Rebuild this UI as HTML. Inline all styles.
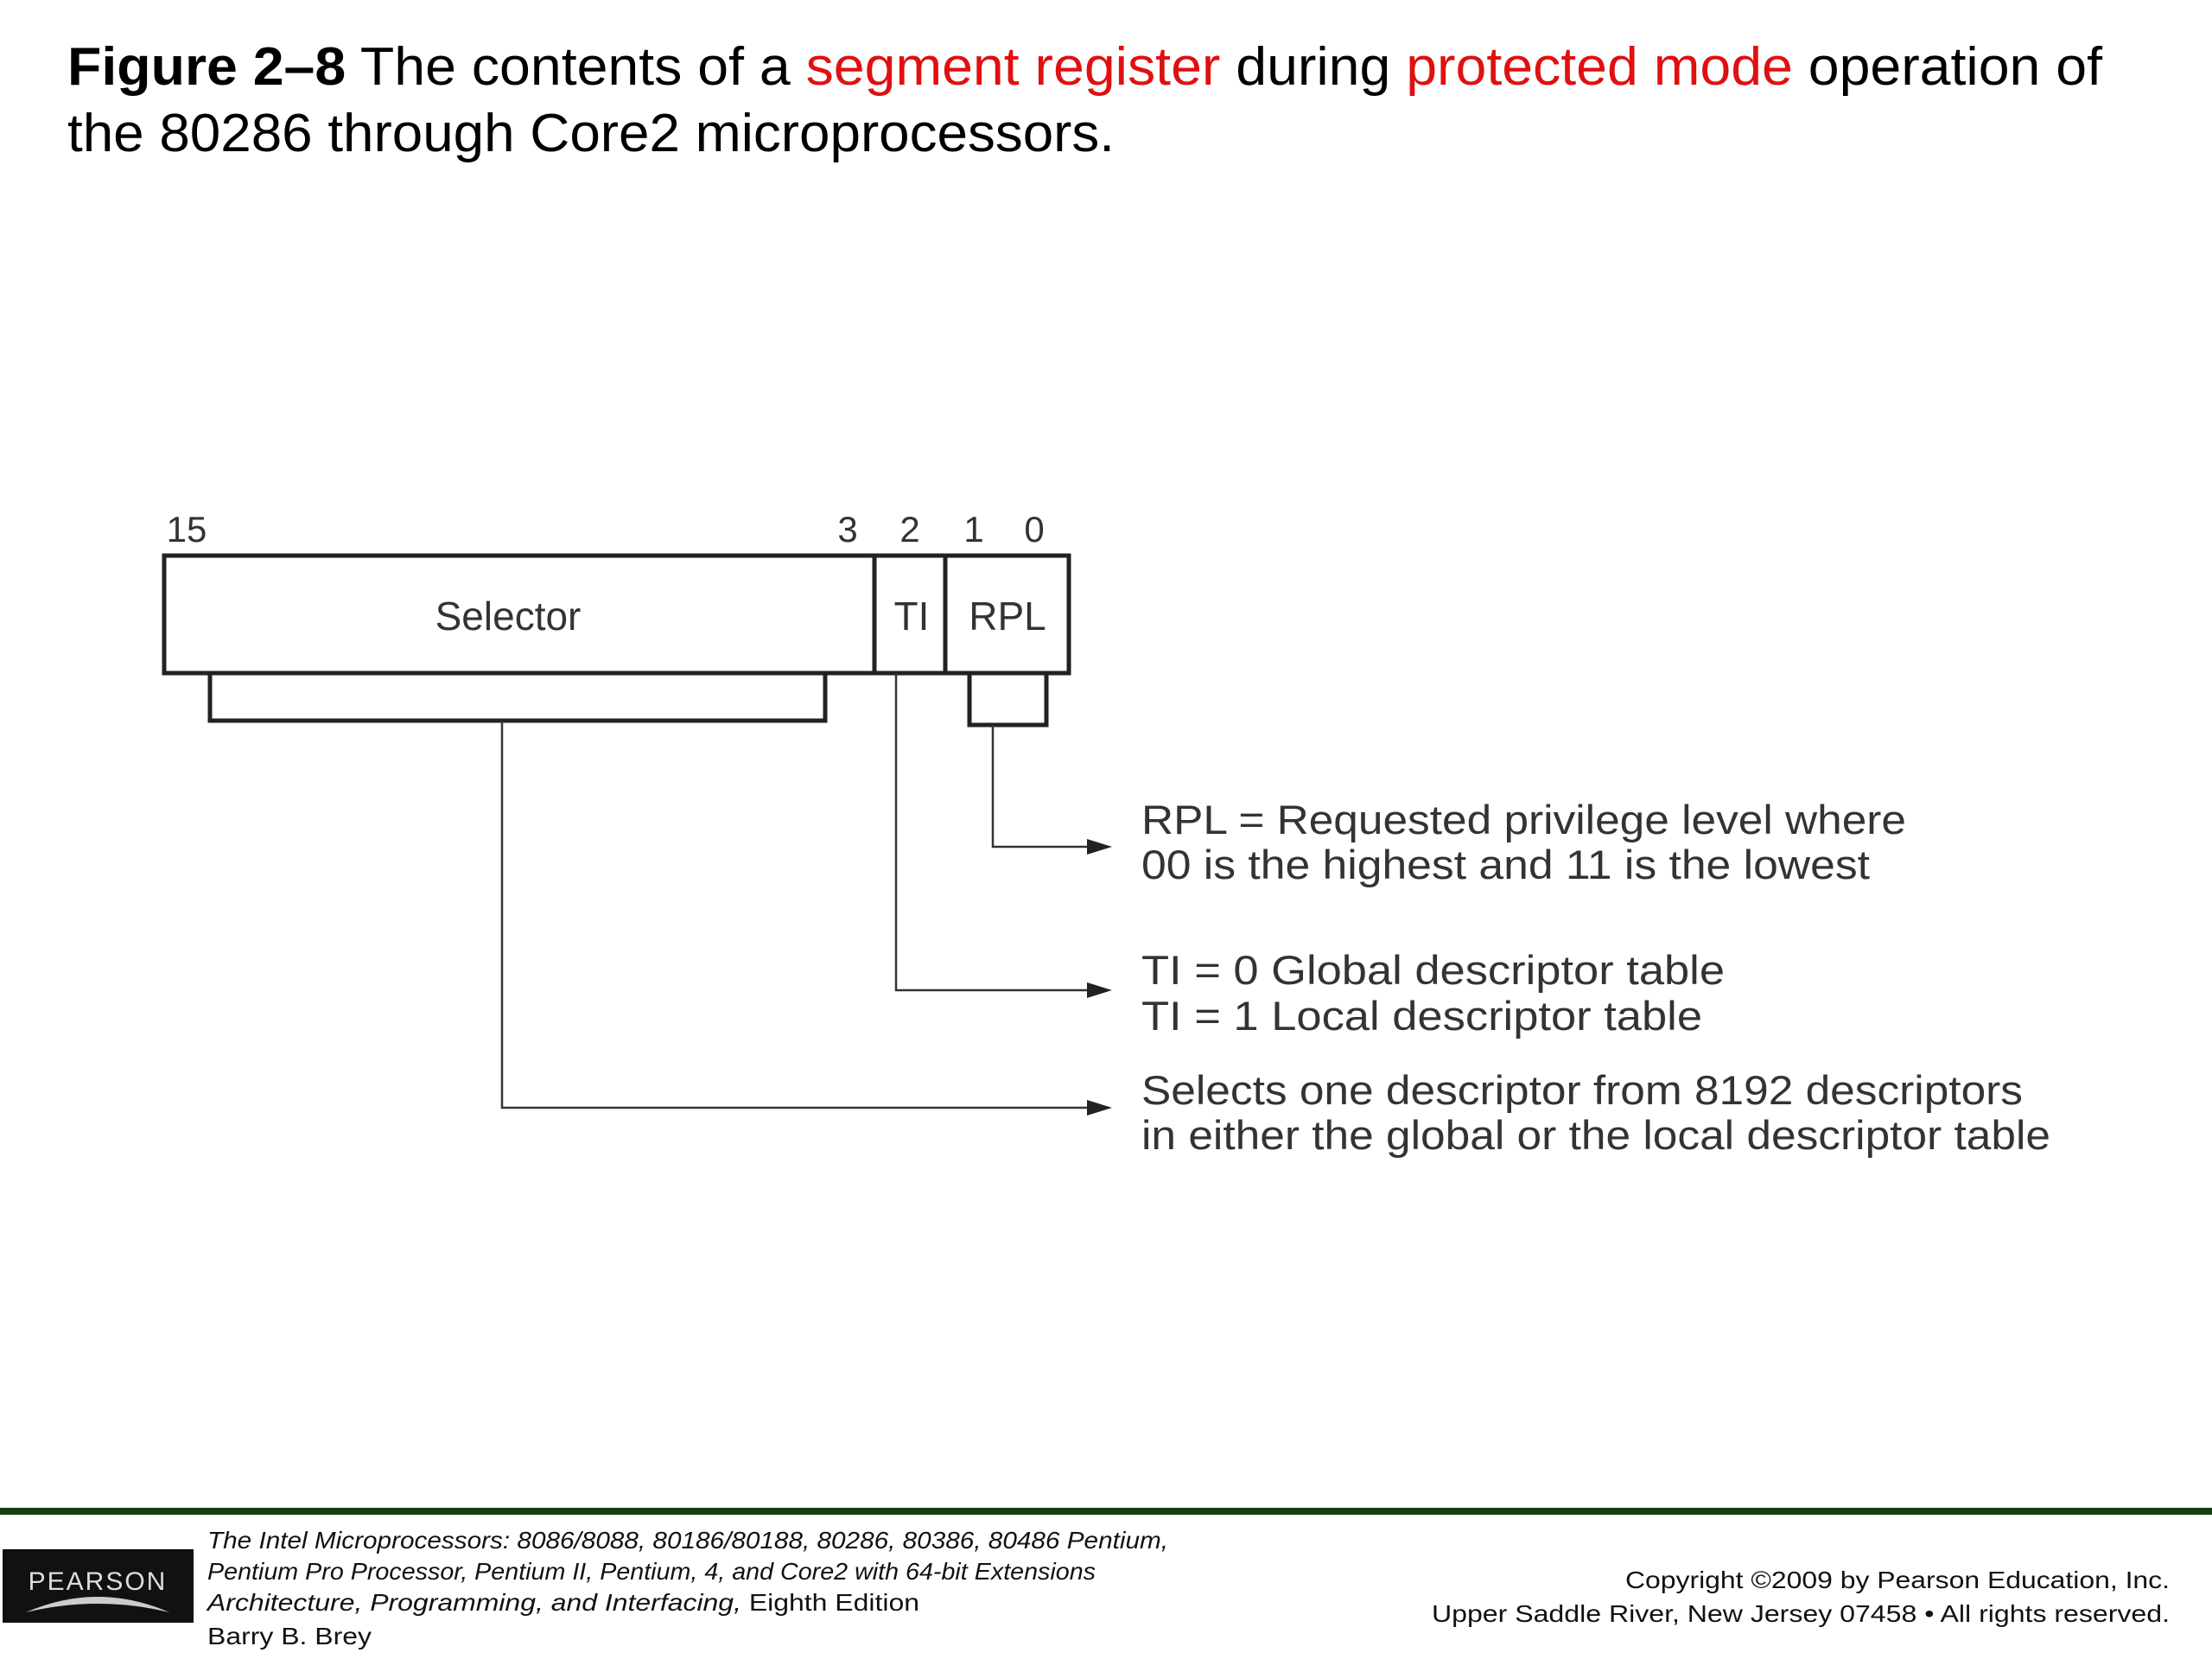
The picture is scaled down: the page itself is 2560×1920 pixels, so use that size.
<!DOCTYPE html>
<html><head><meta charset="utf-8"><style>
html,body{margin:0;padding:0;background:#fff;}
svg{display:block;}
text{font-family:"Liberation Sans",Arial,sans-serif;}
</style></head><body>
<svg width="2560" height="1920" viewBox="0 0 2560 1920" xmlns="http://www.w3.org/2000/svg">
<text x="78" y="98" font-size="62" textLength="2355" lengthAdjust="spacingAndGlyphs"><tspan font-weight="bold">Figure 2–8</tspan>  The contents of a <tspan fill="#e01010">segment register</tspan> during <tspan fill="#e01010">protected mode</tspan> operation of</text>
<text x="78" y="175" font-size="62" textLength="1212" lengthAdjust="spacingAndGlyphs">the 80286 through Core2 microprocessors.</text>

<g font-size="42" fill="#333" text-anchor="middle">
<text x="216" y="627">15</text><text x="981" y="627">3</text><text x="1053" y="627">2</text><text x="1127" y="627">1</text><text x="1197" y="627">0</text>
</g>
<g stroke="#222" stroke-width="5" fill="none">
<rect x="190" y="643" width="1047" height="136"/>
<line x1="1012" y1="643" x2="1012" y2="779"/>
<line x1="1094" y1="643" x2="1094" y2="779"/>
<polyline points="243,779 243,834 955,834 955,779"/>
<polyline points="1122,779 1122,839 1211,839 1211,779"/>
</g>
<g font-size="46" fill="#333" text-anchor="middle">
<text x="588" y="729">Selector</text><text x="1055" y="729">TI</text><text x="1166" y="729">RPL</text>
</g>
<g stroke="#333" stroke-width="2.5" fill="none">
<polyline points="1149,839 1149,980 1262,980"/>
<polyline points="1037,779 1037,1146 1262,1146"/>
<polyline points="581,834 581,1282 1262,1282"/>
</g>
<g fill="#222">
<path d="M1258,971 L1287,980 L1258,989z"/>
<path d="M1258,1137 L1287,1146 L1258,1155z"/>
<path d="M1258,1273 L1287,1282 L1258,1291z"/>
</g>
<g font-size="47" fill="#333">
<text x="1321" y="965" textLength="885" lengthAdjust="spacingAndGlyphs">RPL = Requested privilege level where</text>
<text x="1321" y="1017" textLength="843" lengthAdjust="spacingAndGlyphs">00 is the highest and 11 is the lowest</text>
<text x="1321" y="1139" textLength="675" lengthAdjust="spacingAndGlyphs">TI = 0  Global descriptor table</text>
<text x="1321" y="1192" textLength="649" lengthAdjust="spacingAndGlyphs">TI = 1  Local descriptor table</text>
<text x="1321" y="1278" textLength="1020" lengthAdjust="spacingAndGlyphs">Selects one descriptor from 8192 descriptors</text>
<text x="1321" y="1330" textLength="1052" lengthAdjust="spacingAndGlyphs">in either the global or the local descriptor table</text>
</g>

<rect x="0" y="1745" width="2560" height="8" fill="#143f14"/>
<rect x="3" y="1793" width="221" height="85" fill="#111"/>
<text x="113" y="1840" font-size="30" fill="#ddd" text-anchor="middle" letter-spacing="2">PEARSON</text>
<path d="M30,1866 Q113,1830 196,1866 Q113,1846 30,1866z" fill="#ccc"/>
<g font-size="28" fill="#111">
<text x="240" y="1792" font-style="italic" textLength="1112" lengthAdjust="spacingAndGlyphs">The Intel Microprocessors: 8086/8088, 80186/80188, 80286, 80386, 80486 Pentium,</text>
<text x="240" y="1828" font-style="italic" textLength="1028" lengthAdjust="spacingAndGlyphs">Pentium Pro Processor, Pentium II, Pentium, 4, and Core2 with 64-bit Extensions</text>
<text x="240" y="1864" textLength="824" lengthAdjust="spacingAndGlyphs"><tspan font-style="italic">Architecture, Programming, and Interfacing,</tspan> Eighth Edition</text>
<text x="240" y="1903" textLength="190" lengthAdjust="spacingAndGlyphs">Barry B. Brey</text>
<text x="1881" y="1838" textLength="630" lengthAdjust="spacingAndGlyphs">Copyright ©2009 by Pearson Education, Inc.</text>
<text x="1657" y="1877" textLength="854" lengthAdjust="spacingAndGlyphs">Upper Saddle River, New Jersey 07458 • All rights reserved.</text>
</g>
</svg>
</body></html>
